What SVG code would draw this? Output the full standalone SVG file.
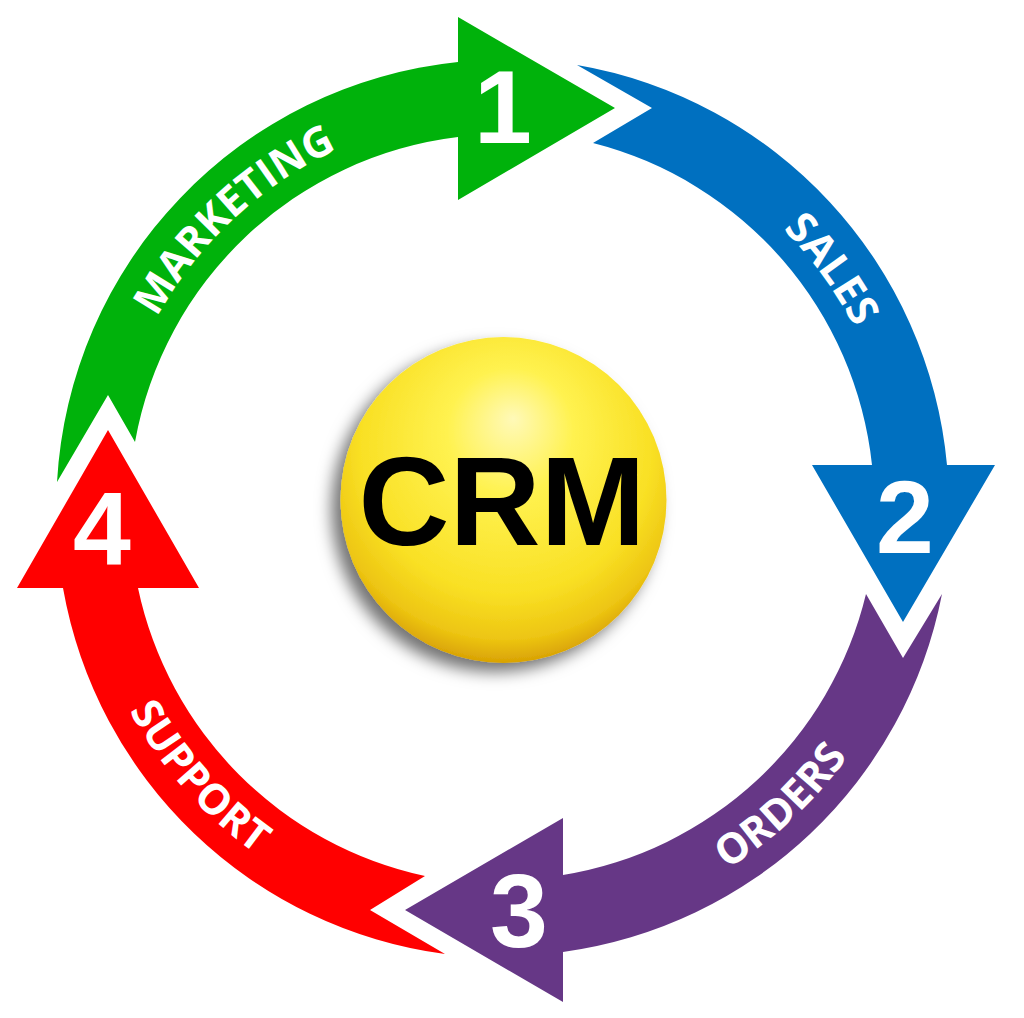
<svg xmlns="http://www.w3.org/2000/svg" width="1024" height="1018" viewBox="0 0 1024 1018">
  <defs>
    <radialGradient id="ballGrad" cx="0.5" cy="0.38" r="0.64" fx="0.53" fy="0.25">
      <stop offset="0" stop-color="#FFF9B8"/>
      <stop offset="0.3" stop-color="#FFF250"/>
      <stop offset="0.7" stop-color="#F9E024"/>
      <stop offset="0.88" stop-color="#EDC512"/>
      <stop offset="1" stop-color="#D39800"/>
    </radialGradient>
    <filter id="shadow" x="-30%" y="-30%" width="160%" height="160%">
      <feDropShadow dx="-9" dy="9" stdDeviation="8" flood-color="#000" flood-opacity="0.55"/>
    </filter>
    <path id="pMarketing" d="M118.1,596.9 A395,395 0 0 1 618.5,130.3"/>
    <path id="pSales" d="M461.7,115.2 A395,395 0 0 1 863.9,668.7"/>
    <path id="pOrders" d="M378.7,914.4 A425,425 0 0 0 917.1,412.4"/>
    <path id="pSupport" d="M100.0,373.1 A425,425 0 0 0 587.7,924.5"/>
  </defs>
  <style>
    .lbl { font-family: "Open Sans", "Liberation Sans", sans-serif; font-weight: bold; font-size: 42px; fill: #FFFFFF; }
    .num { font-family: "Liberation Sans", Arial, sans-serif; font-weight: bold; font-size: 104px; fill: #FFFFFF; text-anchor: middle; }
    .crm { font-family: "Liberation Sans", Arial, sans-serif; font-weight: bold; font-size: 126px; fill: #000000; text-anchor: middle; }
  </style>
  <rect width="1024" height="1018" fill="#FFFFFF"/>

  <g id="connectors">
    <g id="marketing">
      <path fill="#00B20B" d="M57,482 A447.5,447.5 0 0 1 458,62 L458,17 L615,108 L458,200 L458,137 A373.5,373.5 0 0 0 135,442 L108,395 Z"/>
      <text class="lbl"><textPath href="#pMarketing" startOffset="50%" text-anchor="middle">MARKETING</textPath></text>
      <text class="num" x="503" y="143">1</text>
    </g>
    <g id="sales">
      <path fill="#0070C0" d="M577,65 A447.5,447.5 0 0 1 947,465 L995,465 L903,622 L812,465 L872,465 A373.5,373.5 0 0 0 593,143 L652,108 Z"/>
      <text class="lbl"><textPath href="#pSales" startOffset="50%" text-anchor="middle">SALES</textPath></text>
      <text class="num" x="905" y="553">2</text>
    </g>
    <g id="orders">
      <path fill="#663786" d="M942,594 A447.5,447.5 0 0 1 563,952 L563,1002 L405,910 L563,818 L563,875 A373.5,373.5 0 0 0 866,594 L903,658 Z"/>
      <text class="lbl"><textPath href="#pOrders" startOffset="50%" text-anchor="middle">ORDERS</textPath></text>
      <text class="num" x="519" y="947">3</text>
    </g>
    <g id="support">
      <path fill="#FF0000" d="M445,954 A447.5,447.5 0 0 1 63,588 L17,588 L108,430 L199,588 L138,588 A373.5,373.5 0 0 0 425,876 L370,910 Z"/>
      <text class="lbl"><textPath href="#pSupport" startOffset="50%" text-anchor="middle">SUPPORT</textPath></text>
      <text class="num" x="102" y="565">4</text>
    </g>
  </g>

  <g id="crm">
    <circle cx="503.5" cy="500" r="163" fill="url(#ballGrad)" filter="url(#shadow)"/>
    <text class="crm" x="502" y="545">CRM</text>
  </g>
</svg>
